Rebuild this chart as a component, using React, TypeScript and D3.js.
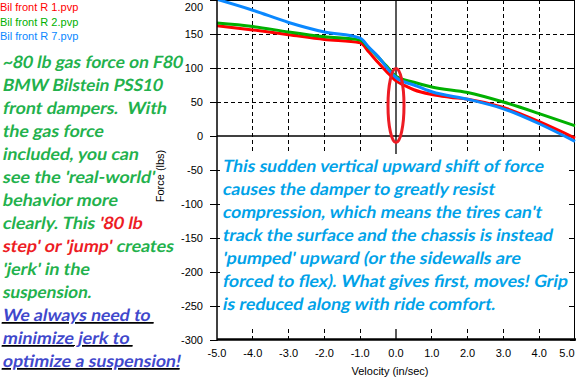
import React from "react";
import * as d3 from "d3";

const seriesNames = ["Bil front R 1.pvp", "Bil front R 2.pvp", "Bil front R 7.pvp"];
const seriesColors = ["#ff0000", "#00b000", "#0a88ff"];

const velRed = [-5, -4, -3, -2, -1, -0.75, -0.5, -0.25, 0, 0.25, 0.5, 1, 1.5, 2, 3, 4, 5];
const forceRed = [162, 156, 149, 142, 137, 123, 108, 94, 81, 74, 68, 61, 57, 54, 42, 21, -3];

const velGreen = [-5, -4, -3, -2, -1, -0.75, -0.5, -0.25, 0, 0.5, 1, 2, 3, 4, 5];
const forceGreen = [166, 161, 153, 146, 141, 129, 116, 102, 88, 79, 72, 64, 50, 33, 15];

const velBlue = [-5, -4, -3, -2, -1, -0.75, -0.5, -0.25, 0, 0.5, 1, 2, 3, 4, 5];
const forceBlue = [201, 185, 167, 153, 144, 130, 117, 100, 86, 75, 65, 54, 40, 18, -8];

const xTicks = [-5, -4, -3, -2, -1, 0, 1, 2, 3, 4, 5];
const yTicks = [-300, -250, -200, -150, -100, -50, 0, 50, 100, 150, 200];

const leftLines: { parts: { t: string; c: string }[]; w: number; u?: boolean }[] = [
  { parts: [{ t: "~80 lb gas force on F80", c: "g" }], w: 180 },
  { parts: [{ t: "BMW Bilstein PSS10", c: "g" }], w: 160 },
  { parts: [{ t: "front dampers.\u00a0 With", c: "g" }], w: 164 },
  { parts: [{ t: "the gas force", c: "g" }], w: 101 },
  { parts: [{ t: "included, you can", c: "g" }], w: 136 },
  { parts: [{ t: "see the 'real-world'", c: "g" }], w: 152 },
  { parts: [{ t: "behavior more", c: "g" }], w: 115 },
  { parts: [{ t: "clearly. This ", c: "g" }, { t: "'80 lb", c: "r" }], w: 140 },
  { parts: [{ t: "step' or 'jump'", c: "r" }, { t: " creates", c: "g" }], w: 171 },
  { parts: [{ t: "'jerk' in the", c: "g" }], w: 87 },
  { parts: [{ t: "suspension.", c: "g" }], w: 89 },
  { parts: [{ t: "We always need to\u00a0", c: "p" }], w: 152, u: true },
  { parts: [{ t: "minimize jerk to\u00a0", c: "p" }], w: 131, u: true },
  { parts: [{ t: "optimize a suspension!", c: "p" }], w: 178, u: true },
];

const blueLines: { t: string; w: number }[] = [
  { t: "This sudden vertical upward shift of force", w: 321 },
  { t: "causes the damper to greatly resist", w: 272 },
  { t: "compression, which means the tires can't", w: 319 },
  { t: "track the surface and the chassis is instead", w: 330 },
  { t: "'pumped' upward (or the sidewalls are", w: 298 },
  { t: "forced to flex). What gives first, moves! Grip", w: 345 },
  { t: "is reduced along with ride comfort.", w: 273 },
];

const textColors: Record<string, string> = { g: "#22b14c", r: "#ed1c24", p: "#3f48cc" };

export default function App() {
  const W = 576;
  const H = 383;
  const x = d3.scaleLinear().domain([-5, 5]).range([217, 575]);
  const y = d3.scaleLinear().domain([-300, 200]).range([340, 0]);
  const line = (vs: number[], fs: number[]) =>
    d3.line<number>().curve(d3.curveMonotoneX).x((_, i) => x(vs[i])).y((d) => y(d))(fs) || "";

  const series = [
    { v: velRed, f: forceRed, c: seriesColors[0] },
    { v: velGreen, f: forceGreen, c: seriesColors[1] },
    { v: velBlue, f: forceBlue, c: seriesColors[2] },
  ];

  const axisFont = "'Liberation Sans', Arial, sans-serif";
  const bigFont = "Lato, 'Open Sans', sans-serif";
  const skew = "skewX(-11)";

  return (
    <svg width={W} height={H} style={{ position: "absolute", left: 0, top: 0, background: "#fff" }}>
      <rect x={0} y={0} width={W} height={H} fill="#fff" />
      {/* grid */}
      {xTicks.filter((t) => t !== 0 && t !== -5 && t !== 5).map((t) => (
        <line key={"gx" + t} x1={x(t)} x2={x(t)} y1={0} y2={340} stroke="#000" strokeWidth={1} strokeDasharray="4,3" shapeRendering="crispEdges" />
      ))}
      {yTicks.filter((t) => t !== 0 && t !== -300 && t !== 200).map((t) => (
        <line key={"gy" + t} x1={217} x2={575} y1={y(t)} y2={y(t)} stroke="#000" strokeWidth={1} strokeDasharray="4,3" shapeRendering="crispEdges" />
      ))}
      {/* zero lines */}
      <line x1={x(0)} x2={x(0)} y1={0} y2={340} stroke="#000" strokeWidth={1.3} />
      <line x1={217} x2={575} y1={y(0)} y2={y(0)} stroke="#000" strokeWidth={1.3} />
      {/* borders */}
      <line x1={217} x2={575} y1={0.5} y2={0.5} stroke="#000" strokeWidth={1} />
      <line x1={574.5} x2={574.5} y1={0} y2={340} stroke="#000" strokeWidth={1} />
      {yTicks.map((t) => (
        <line key={"rt" + t} x1={570} x2={575} y1={y(t)} y2={y(t)} stroke="#000" strokeWidth={1} shapeRendering="crispEdges" />
      ))}
      {/* curves */}
      {series.map((s, i) => (
        <path key={"s" + i} d={line(s.v, s.f)} fill="none" stroke={s.c} strokeWidth={3} strokeLinejoin="round" />
      ))}
      {/* ellipse annotation */}
      <ellipse cx={x(0)} cy={105.5} rx={8} ry={37} fill="none" stroke="#ed1c24" strokeWidth={3} />
      {/* annotation box */}
      <rect x={220} y={154} width={349} height={175} fill="#fff" />
      {blueLines.map((l, i) => (
        <g key={"bl" + i} transform={`translate(222,${172 + i * 23}) ${skew}`}>
          <text x={0} y={0} fontFamily={bigFont} fontWeight={700} fontSize={17}
            fill="#00a2e8" textLength={l.w} lengthAdjust="spacingAndGlyphs">{l.t}</text>
        </g>
      ))}
      {/* left axis */}
      <line x1={217} x2={217} y1={0} y2={341} stroke="#000" strokeWidth={1.5} />
      {yTicks.map((t) => (
        <g key={"yt" + t}>
          <line x1={210} x2={217} y1={y(t)} y2={y(t)} stroke="#000" strokeWidth={1} shapeRendering="crispEdges" />
          <text x={203} y={Math.max(y(t), 7) + 4} textAnchor="end" fontFamily={axisFont} fontSize={11} fill="#000">{t}</text>
        </g>
      ))}
      {/* bottom axis */}
      <line x1={217} x2={576} y1={339.5} y2={339.5} stroke="#000" strokeWidth={2.5} />
      {xTicks.map((t) => (
        <text key={"xt" + t} x={Math.min(x(t), 567)} y={357} textAnchor="middle" fontFamily={axisFont} fontSize={11} fill="#000">{t.toFixed(1)}</text>
      ))}
      <text x={390} y={375} textAnchor="middle" fontFamily={axisFont} fontSize={11} fill="#000">Velocity (in/sec)</text>
      <text transform="translate(164,176) rotate(-90)" textAnchor="middle" fontFamily={axisFont} fontSize={11} fill="#000">Force (lbs)</text>
      {/* legend */}
      {seriesNames.map((n, i) => (
        <text key={"lg" + i} x={0} y={11 + i * 14.5} fontFamily={axisFont} fontSize={11} fill={seriesColors[i]}>{n}</text>
      ))}
      {/* left commentary */}
      {leftLines.map((l, i) => (
        <g key={"ll" + i} transform={`translate(2,${68 + i * 23}) ${skew}`}>
          <text x={0} y={0} fontFamily={bigFont} fontWeight={700} fontSize={17}
            textLength={l.w} lengthAdjust="spacingAndGlyphs" style={{ whiteSpace: "pre", textDecoration: l.u ? "underline" : "none" }}>
            {l.parts.map((p, j) => (
              <tspan key={j} fill={textColors[p.c]}>{p.t}</tspan>
            ))}
          </text>
        </g>
      ))}
    </svg>
  );
}
